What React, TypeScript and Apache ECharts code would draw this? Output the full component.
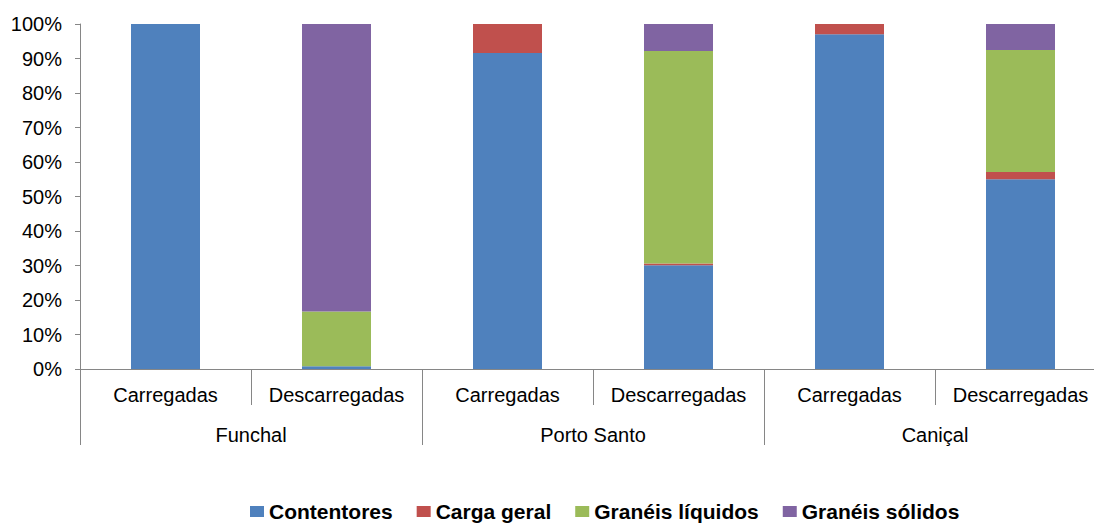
import React, { useEffect, useRef } from "react";
import * as echarts from "echarts";

const subCategories = ["Carregadas", "Descarregadas", "Carregadas", "Descarregadas", "Carregadas", "Descarregadas"];
const ports = ["Funchal", "Porto Santo", "Caniçal"];
const seriesNames = ["Contentores", "Carga geral", "Granéis líquidos", "Granéis sólidos"];
const contentores = [100, 0.8, 91.6, 30.1, 97.0, 55.0];
const cargaGeral = [0, 0, 8.4, 0.5, 3.0, 2.1];
const graneisLiquidos = [0, 15.9, 0, 61.6, 0, 35.4];
const graneisSolidos = [0, 83.3, 0, 7.8, 0, 7.5];
const colors = ["#4F81BD", "#C0504D", "#9BBB59", "#8064A2"];

export default function App() {
  const ref = useRef<HTMLDivElement>(null);
  useEffect(() => {
    if (!ref.current) return;
    const chart = echarts.init(ref.current, undefined, { renderer: "svg" });
    const values = [contentores, cargaGeral, graneisLiquidos, graneisSolidos];
    const font = "Liberation Sans, Arial, sans-serif";
    chart.setOption({
      animation: false,
      textStyle: { fontFamily: font },
      grid: { left: 80, top: 24, height: 345, width: 1026 },
      legend: {
        left: 250,
        top: 501,
        padding: 0,
        itemWidth: 14,
        itemHeight: 11,
        itemGap: 24,
        icon: "rect",
        textStyle: { fontSize: 21, fontWeight: "bold", color: "#000", fontFamily: font },
        data: seriesNames,
      },
      xAxis: [
        {
          type: "category",
          data: subCategories,
          position: "bottom",
          axisLine: { show: true, lineStyle: { color: "#868686", width: 1 } },
          axisTick: { show: true, length: 36, interval: 0, lineStyle: { color: "#868686" } },
          axisLabel: { interval: 0, fontSize: 20, color: "#000", margin: 16, fontFamily: font },
        },
        {
          type: "category",
          data: ports,
          position: "bottom",
          gridIndex: 0,
          axisLine: { show: false },
          axisTick: { show: true, length: 76, interval: 0, lineStyle: { color: "#868686" } },
          axisLabel: { interval: 0, fontSize: 20, color: "#000", margin: 56, fontFamily: font },
        },
      ],
      yAxis: {
        type: "value",
        min: 0,
        max: 100,
        interval: 10,
        splitLine: { show: false },
        axisLine: { show: true, lineStyle: { color: "#868686" } },
        axisTick: { show: true, length: 5, lineStyle: { color: "#868686" } },
        axisLabel: { formatter: "{value}%", fontSize: 20, color: "#000", margin: 18, fontFamily: font },
      },
      series: seriesNames.map((name, i) => ({
        name,
        type: "bar",
        stack: "total",
        xAxisIndex: 0,
        barWidth: 69,
        itemStyle: { color: colors[i] },
        data: values[i],
      })),
    });
    return () => chart.dispose();
  }, []);
  return (
    <div style={{ position: "absolute", left: 0, top: 0, width: 1094, height: 523, overflow: "hidden" }}>
      <div ref={ref} style={{ width: 1120, height: 523 }} />
    </div>
  );
}
